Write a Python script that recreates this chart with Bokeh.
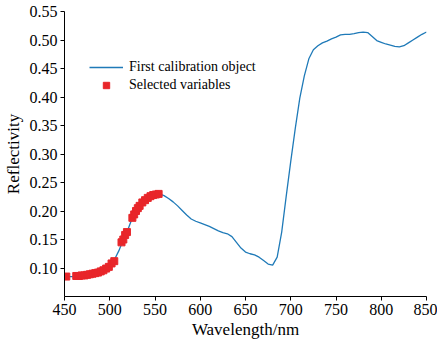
from bokeh.plotting import figure
from bokeh.models import Range1d, FixedTicker, Legend, LegendItem, NumeralTickFormatter
from bokeh.embed import file_html
from bokeh.resources import INLINE

wavelength = [450, 455, 460, 465, 470, 475, 480, 485, 490, 495,
              500, 505, 510, 515, 520, 525, 530, 535, 540, 545,
              550, 555, 560, 565, 570, 575, 580, 585, 590, 595,
              600, 605, 610, 615, 620, 625, 630, 635, 640, 645,
              650, 655, 660, 665, 670, 675, 680, 685, 690, 695,
              700, 705, 710, 715, 720, 725, 730, 735, 740, 745,
              750, 755, 760, 765, 770, 775, 780, 785, 790, 795,
              800, 805, 810, 815, 820, 825, 830, 835, 840, 845, 850]
reflectivity = [0.085, 0.085, 0.085, 0.086, 0.087, 0.088, 0.089, 0.091, 0.094, 0.098,
                0.104, 0.114, 0.130, 0.150, 0.167, 0.188, 0.203, 0.213, 0.221, 0.226,
                0.229, 0.230, 0.227, 0.222, 0.216, 0.209, 0.201, 0.193, 0.186, 0.182,
                0.179, 0.176, 0.173, 0.169, 0.165, 0.162, 0.160, 0.155, 0.145, 0.135,
                0.128, 0.125, 0.123, 0.119, 0.113, 0.107, 0.105, 0.119, 0.163, 0.226,
                0.287, 0.345, 0.398, 0.437, 0.467, 0.483, 0.490, 0.495, 0.498, 0.502,
                0.505, 0.509, 0.510, 0.510, 0.511, 0.513, 0.514, 0.513, 0.506, 0.499,
                0.496, 0.493, 0.491, 0.489, 0.488, 0.490, 0.495, 0.500, 0.505, 0.510, 0.514]

sel_wavelength = [452, 463, 466, 469, 472, 475, 478, 481, 484, 487, 490, 493, 496, 499,
                  502, 505, 513, 515, 517, 519, 525, 527, 529, 531, 533, 536, 539, 542,
                  545, 548, 551, 554]
sel_reflectivity = [0.085, 0.086, 0.086, 0.087, 0.087, 0.088, 0.089, 0.090, 0.091, 0.092,
                    0.094, 0.096, 0.099, 0.102, 0.108, 0.112, 0.145, 0.150, 0.158, 0.163,
                    0.188, 0.194, 0.200, 0.205, 0.209, 0.215, 0.219, 0.223, 0.226, 0.228,
                    0.229, 0.230]

x_ticks = [450, 500, 550, 600, 650, 700, 750, 800, 850]
y_ticks = [0.10, 0.15, 0.20, 0.25, 0.30, 0.35, 0.40, 0.45, 0.50, 0.55]

FONT = "Liberation Serif"

p = figure(width=437, height=341, output_backend="svg", toolbar_location=None,
           x_range=Range1d(450, 850), y_range=Range1d(0.05, 0.55),
           min_border_left=63, min_border_right=11, min_border_top=11, min_border_bottom=44)
p.outline_line_color = None
p.grid.visible = False
p.background_fill_color = "white"
p.border_fill_color = "white"

line = p.line(wavelength, reflectivity, line_color="#1f7ab8", line_width=1.3)
pts = p.scatter(sel_wavelength, sel_reflectivity, marker="square", size=7,
                fill_color="#e8262a", line_color="#e8262a")

for ax in (p.xaxis[0], p.yaxis[0]):
    ax.axis_line_color = "black"
    ax.axis_line_width = 1
    ax.major_tick_line_color = "black"
    ax.major_tick_out = 4
    ax.major_tick_in = 0
    ax.minor_tick_line_color = None
    ax.major_label_text_font = FONT
    ax.major_label_text_font_size = "16px"
    ax.major_label_text_color = "black"
    ax.axis_label_text_font = FONT
    ax.axis_label_text_font_size = "17px"
    ax.axis_label_text_font_style = "normal"
    ax.axis_label_text_color = "black"

p.xaxis.ticker = FixedTicker(ticks=x_ticks)
p.yaxis.ticker = FixedTicker(ticks=y_ticks)
p.yaxis.formatter = NumeralTickFormatter(format="0.00")
p.xaxis.axis_label = "Wavelength/nm"
p.yaxis.axis_label = "Reflectivity"
p.xaxis.major_label_standoff = 3
p.yaxis.major_label_standoff = 3
p.xaxis.axis_label_standoff = 2
p.yaxis.axis_label_standoff = 4

legend = Legend(items=[LegendItem(label="First calibration object", renderers=[line]),
                       LegendItem(label="Selected variables", renderers=[pts])],
                location=(25, 203))
legend.border_line_color = None
legend.background_fill_alpha = 0
legend.padding = 0
legend.margin = 0
legend.spacing = 2
legend.glyph_width = 34
legend.glyph_height = 16
legend.label_standoff = 6
legend.label_text_font = FONT
legend.label_text_font_size = "14px"
legend.label_text_color = "black"
legend.label_height = 16
p.add_layout(legend, "center")

open("out.html", "w").write(file_html(p, INLINE))
